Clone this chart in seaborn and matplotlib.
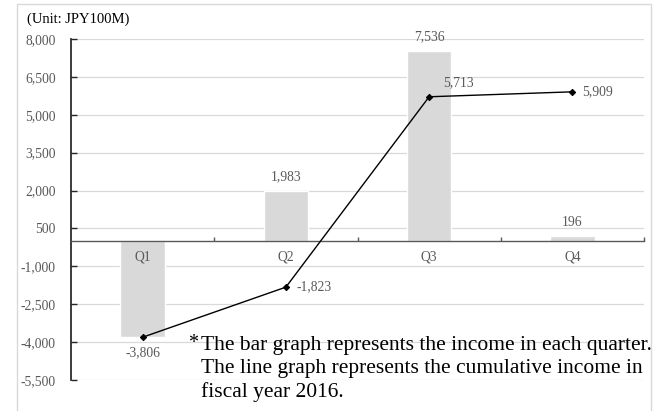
import matplotlib
matplotlib.use("Agg")
import matplotlib.pyplot as plt
from matplotlib.patches import Rectangle
from matplotlib.ticker import FixedLocator, FuncFormatter
import seaborn as sns

# Quarterly income and cumulative income, FY2016 (unit: JPY100M)
quarters = ["Q1", "Q2", "Q3", "Q4"]
income = [-3806, 1983, 7536, 196]
cumulative = [-3806, -1823, 5713, 5909]
y_ticks = [8000, 6500, 5000, 3500, 2000, 500, -1000, -2500, -4000, -5500]

sns.set_theme(style="white")
plt.rcParams["font.family"] = ["Liberation Serif", "DejaVu Serif"]

GREY_TEXT = "#595959"
GRID = "#d9d9d9"

fig = plt.figure(figsize=(6.6, 4.11), dpi=100)
ax = fig.add_axes([0.1076, 0.0754, 0.9758 - 0.1076, 0.9051 - 0.0754])

# Bars: quarterly income
sns.barplot(x=quarters, y=income, color="#d9d9d9", width=0.31,
            saturation=1, ax=ax, zorder=2)

# Line: cumulative income
sns.pointplot(x=quarters, y=cumulative, color="black", markers="D",
              markersize=3.2, linewidth=1.0, errorbar=None, ax=ax)
for line in ax.lines:
    line.set_zorder(4)

ax.set_xlim(-0.5, 3.5)
ax.set_ylim(min(y_ticks), max(y_ticks))
ax.set_xlabel("")
ax.set_ylabel("")

# Y axis
ax.yaxis.set_major_locator(FixedLocator(y_ticks))
ax.yaxis.set_major_formatter(FuncFormatter(lambda v, p: f"{int(v):,}"))
ax.grid(axis="y", color=GRID, linewidth=0.9, zorder=0)
ax.grid(axis="x", visible=False)
ax.set_axisbelow(True)
ax.tick_params(axis="y", which="major", direction="in", length=4, width=1,
               color="#262626", labelsize=9.8, labelcolor=GREY_TEXT, pad=11,
               left=True)

# Category axis sits on the zero line
ax.spines["bottom"].set_position(("data", 0))
ax.spines["bottom"].set_color("#595959")
ax.spines["bottom"].set_linewidth(1.0)
ax.spines["bottom"].set_zorder(3)
ax.spines["left"].set_color("#1a1a1a")
ax.spines["left"].set_linewidth(1.2)
ax.spines["left"].set_zorder(3)
ax.spines["top"].set_visible(False)
ax.spines["right"].set_visible(False)
ax.set_xticks(range(len(quarters)))
ax.set_xticklabels([])
ax.set_xticks([i + 0.5 for i in range(len(quarters))], minor=True)
ax.tick_params(axis="x", which="major", length=0, bottom=True)
ax.tick_params(axis="x", which="minor", direction="in", length=3, width=1,
               color="#595959", bottom=True)

# Category names just beneath the zero line, drawn above the bars
for i, q in enumerate(quarters):
    ax.annotate(q, xy=(i, 0), xytext=(0, -16), textcoords="offset pixels",
                ha="center", va="center", fontsize=9.8, color=GREY_TEXT,
                zorder=5)

# Bar value labels (negative bar labelled beneath)
for i, v in enumerate(income):
    off = 14 if v >= 0 else -15
    ax.annotate(f"{v:,}", xy=(i, v), xytext=(0, off), textcoords="offset pixels",
                ha="center", va="center", fontsize=9.8, color=GREY_TEXT, zorder=5)

# Cumulative labels (Q1 shares the bar label)
line_offsets = [None, (11, 0), (14, 14), (10, 0)]
for i, v in enumerate(cumulative):
    if line_offsets[i] is None:
        continue
    ax.annotate(f"{v:,}", xy=(i, v), xytext=line_offsets[i],
                textcoords="offset pixels", ha="left", va="center",
                fontsize=9.8, color=GREY_TEXT, zorder=5)

fig.text(27 / 660, 1 - 19 / 411, "(Unit: JPY100M)", ha="left", va="center",
         fontsize=10.5, color="black")

note_lines = ["The bar graph represents the income in each quarter.",
              "The line graph represents the cumulative income in",
              "fiscal year 2016."]
fig.text(188 / 660, 1 - 343 / 411, "*", ha="left", va="center",
         fontsize=14.5, color="black")
for k, t in enumerate(note_lines):
    fig.text(201 / 660, 1 - (345 + 23.5 * k) / 411, t, ha="left", va="center",
             fontsize=15.5, color="black")

# Light frame around the chart
fig.add_artist(Rectangle((17 / 660, -0.02), (651 - 17) / 660, 1 - 4 / 411 + 0.02,
                         transform=fig.transFigure, fill=False,
                         edgecolor="#d9d9d9", linewidth=1.0))

fig.savefig("out.png", dpi=100)
